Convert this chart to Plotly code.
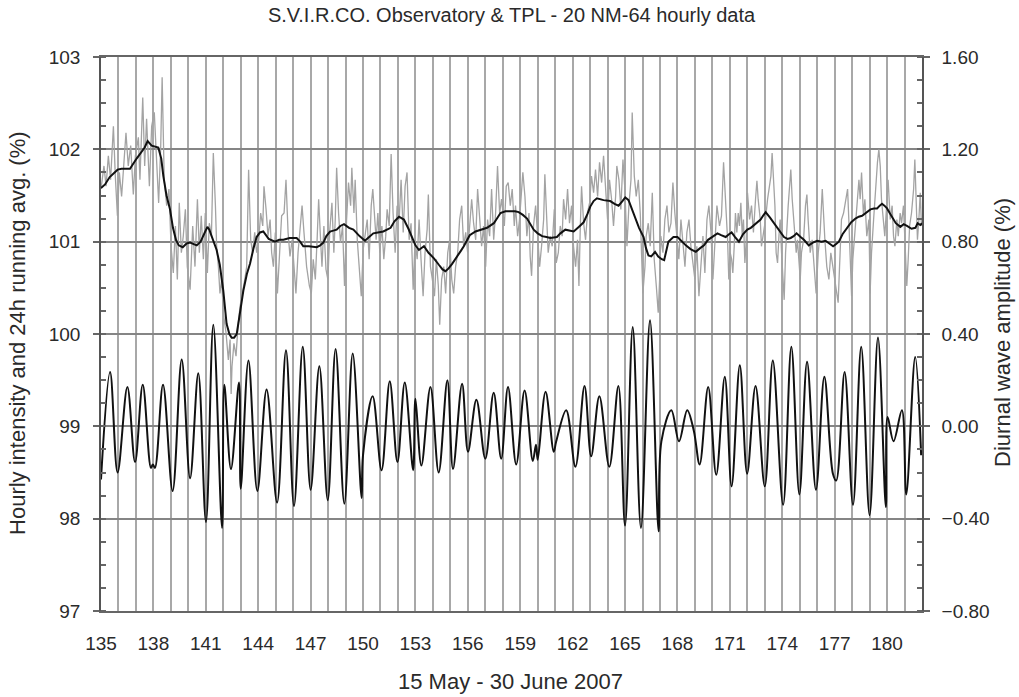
import plotly.graph_objects as go

# ---------------- data ----------------
# hourly intensity (%), sampled envelope points: day of year, value
hourly_day = [
    135.00, 135.17, 135.29, 135.42, 135.55, 135.71, 135.82, 135.94, 136.05, 136.18,
    136.43, 136.56, 136.70, 136.85, 136.97, 137.14, 137.23, 137.39, 137.50, 137.61,
    137.77, 137.90, 138.05, 138.19, 138.30, 138.42, 138.50, 138.62, 138.76, 138.89,
    139.01, 139.14, 139.26, 139.37, 139.48, 139.60, 139.71, 139.83, 139.94, 140.10,
    140.25, 140.38, 140.52, 140.63, 140.74, 140.86, 140.97, 141.09, 141.20, 141.32,
    141.43, 141.55, 141.62, 141.72, 141.81, 141.91, 142.00, 142.16, 142.29, 142.39,
    142.45, 142.50, 142.61, 142.73, 142.84, 142.96, 143.11, 143.23, 143.34, 143.45,
    143.57, 143.68, 143.80, 143.91, 144.03, 144.14, 144.26, 144.33, 144.45, 144.56,
    144.68, 144.77, 144.87, 144.98, 145.10, 145.21, 145.34, 145.48, 145.59, 145.71,
    145.82, 145.94, 146.05, 146.16, 146.28, 146.39, 146.51, 146.62, 146.77, 146.93,
    147.04, 147.15, 147.27, 147.38, 147.46, 147.57, 147.65, 147.76, 147.88, 147.99,
    148.10, 148.22, 148.33, 148.41, 148.49, 148.60, 148.71, 148.83, 148.94, 149.06,
    149.17, 149.29, 149.36, 149.48, 149.55, 149.67, 149.78, 149.90, 150.01, 150.12,
    150.24, 150.35, 150.47, 150.56, 150.66, 150.75, 150.85, 150.96, 151.08, 151.19,
    151.30, 151.38, 151.50, 151.61, 151.72, 151.84, 151.95, 152.07, 152.18, 152.30,
    152.41, 152.52, 152.64, 152.75, 152.87, 152.98, 153.10, 153.21, 153.32, 153.44,
    153.55, 153.67, 153.74, 153.86, 153.97, 154.09, 154.20, 154.31, 154.39, 154.50,
    154.62, 154.73, 154.85, 154.96, 155.08, 155.19, 155.30, 155.42, 155.53, 155.65,
    155.76, 155.88, 155.99, 156.10, 156.22, 156.33, 156.45, 156.56, 156.68, 156.79,
    156.90, 157.02, 157.13, 157.25, 157.36, 157.48, 157.59, 157.70, 157.82, 157.93,
    158.09, 158.20, 158.31, 158.43, 158.54, 158.66, 158.73, 158.85, 158.96, 159.08,
    159.15, 159.27, 159.38, 159.50, 159.57, 159.65, 159.76, 159.88, 159.99, 160.11,
    160.22, 160.34, 160.41, 160.53, 160.60, 160.72, 160.83, 160.95, 161.06, 161.18,
    161.29, 161.40, 161.48, 161.60, 161.71, 161.82, 161.94, 162.05, 162.17, 162.28,
    162.36, 162.44, 162.51, 162.63, 162.74, 162.85, 162.97, 163.08, 163.20, 163.31,
    163.43, 163.54, 163.66, 163.77, 163.89, 164.00, 164.11, 164.23, 164.34, 164.46,
    164.53, 164.65, 164.76, 164.88, 164.99, 165.11, 165.22, 165.34, 165.41, 165.53,
    165.64, 165.76, 165.87, 165.95, 166.02, 166.14, 166.21, 166.33, 166.44, 166.56,
    166.67, 166.79, 166.90, 166.98, 167.05, 167.17, 167.28, 167.40, 167.51, 167.63,
    167.74, 167.85, 167.97, 168.08, 168.20, 168.31, 168.43, 168.54, 168.66, 168.77,
    168.89, 169.00, 169.11, 169.23, 169.34, 169.46, 169.57, 169.69, 169.80, 169.92,
    170.03, 170.15, 170.26, 170.41, 170.52, 170.64, 170.71, 170.79, 170.87, 170.94,
    171.02, 171.10, 171.17, 171.25, 171.32, 171.40, 171.48, 171.55, 171.63, 171.71,
    171.78, 171.86, 171.94, 172.01, 172.13, 172.24, 172.35, 172.47, 172.55, 172.62,
    172.74, 172.81, 172.93, 173.04, 173.16, 173.27, 173.35, 173.42, 173.50, 173.58,
    173.65, 173.73, 173.81, 173.88, 173.96, 174.03, 174.11, 174.19, 174.26, 174.34,
    174.42, 174.49, 174.57, 174.65, 174.72, 174.80, 174.87, 174.95, 175.03, 175.10,
    175.22, 175.33, 175.41, 175.48, 175.60, 175.71, 175.83, 175.94, 176.06, 176.17,
    176.29, 176.36, 176.44, 176.55, 176.67, 176.78, 176.90, 177.01, 177.13, 177.20,
    177.28, 177.39, 177.51, 177.62, 177.74, 177.81, 177.89, 177.97, 178.04, 178.16,
    178.27, 178.39, 178.46, 178.54, 178.65, 178.73, 178.84, 178.96, 179.03, 179.11,
    179.23, 179.34, 179.45, 179.53, 179.61, 179.68, 179.80, 179.87, 179.95, 180.06,
    180.18, 180.29, 180.37, 180.45, 180.56, 180.64, 180.75, 180.83, 180.94, 181.06,
    181.13, 181.21, 181.29, 181.40, 181.52, 181.59, 181.67, 181.74, 181.82, 181.90,
    181.97,
]
hourly_val = [
    101.57, 101.82, 101.60, 101.93, 101.67, 102.25, 101.71, 101.28, 101.75, 101.49,
    102.18, 101.82, 102.04, 101.51, 101.93, 102.13, 101.67, 102.56, 101.82, 102.33,
    101.60, 102.25, 102.40, 101.75, 101.42, 102.04, 102.78, 101.67, 101.39, 101.57,
    100.95, 100.66, 101.17, 100.59, 101.42, 100.88, 101.06, 101.35, 100.73, 100.48,
    101.17, 100.73, 101.46, 100.88, 101.28, 100.81, 101.31, 100.66, 101.20, 101.06,
    101.96, 101.39, 100.95, 100.73, 100.44, 100.59, 100.23, 100.01, 99.72, 99.94,
    99.35, 99.65, 99.90, 99.76, 100.08, 100.30, 100.44, 100.59, 100.73, 101.78,
    101.02, 100.88, 101.10, 100.88, 101.02, 101.31, 101.17, 101.60, 101.35, 101.06,
    101.24, 100.88, 100.73, 101.10, 100.44, 100.88, 101.28, 101.31, 101.67, 101.10,
    100.84, 101.02, 100.66, 100.44, 100.88, 101.17, 101.39, 101.10, 100.73, 100.52,
    100.44, 100.81, 100.59, 101.06, 101.46, 101.02, 100.73, 101.17, 100.70, 100.59,
    101.13, 101.42, 100.88, 101.24, 101.80, 101.31, 100.99, 101.17, 100.52, 101.24,
    101.64, 101.39, 101.80, 101.31, 101.67, 101.02, 100.73, 100.41, 100.92, 101.10,
    101.24, 100.81, 101.39, 101.57, 101.24, 101.02, 101.31, 100.88, 101.17, 100.81,
    101.06, 101.35, 101.17, 101.95, 101.31, 100.88, 101.39, 101.24, 101.67, 101.10,
    101.60, 101.75, 101.02, 101.20, 100.48, 101.02, 100.81, 101.24, 100.81, 100.41,
    100.88, 101.13, 101.51, 100.73, 100.59, 100.41, 100.81, 100.52, 100.10, 100.59,
    100.73, 100.44, 100.88, 101.02, 100.59, 100.44, 100.73, 100.88, 101.24, 101.39,
    100.95, 101.10, 100.88, 101.17, 101.46, 101.20, 101.02, 101.57, 101.24, 100.95,
    101.17, 100.73, 101.24, 101.06, 101.57, 101.02, 101.31, 101.82, 101.31, 101.46,
    101.17, 101.60, 101.64, 101.39, 101.57, 101.17, 101.39, 101.06, 101.24, 101.57,
    101.75, 101.49, 101.06, 101.31, 100.84, 100.63, 101.17, 101.39, 101.02, 100.73,
    100.95, 101.24, 101.73, 101.17, 100.88, 101.06, 100.95, 101.35, 100.77, 100.88,
    101.17, 101.06, 101.46, 101.24, 101.57, 101.20, 101.39, 100.95, 100.73, 101.02,
    100.52, 101.17, 101.60, 101.20, 101.02, 101.31, 101.42, 101.71, 101.53, 101.78,
    101.49, 101.86, 101.64, 101.93, 101.60, 101.24, 101.67, 101.46, 101.17, 101.49,
    101.82, 101.67, 101.35, 101.89, 101.57, 100.95, 101.39, 101.67, 102.40, 101.71,
    101.49, 101.67, 101.31, 100.73, 100.44, 100.73, 101.06, 101.20, 100.95, 101.53,
    100.81, 100.52, 100.23, 100.59, 101.06, 100.88, 101.24, 101.39, 101.10, 101.20,
    101.64, 101.31, 101.06, 100.81, 101.24, 101.02, 100.73, 101.10, 101.24, 100.95,
    100.73, 100.59, 100.95, 100.41, 100.73, 101.06, 100.66, 101.24, 101.39, 101.10,
    100.59, 101.02, 101.39, 101.17, 101.28, 101.86, 101.60, 101.24, 101.02, 100.59,
    100.88, 100.81, 100.66, 100.95, 101.31, 101.10, 101.31, 101.17, 101.42, 101.06,
    101.24, 100.77, 101.02, 101.53, 101.24, 101.39, 101.10, 101.46, 101.66, 101.46,
    101.24, 100.95, 101.10, 101.24, 101.46, 101.60, 101.71, 101.96, 101.67, 101.39,
    100.88, 100.77, 101.06, 101.24, 100.88, 100.63, 100.37, 100.88, 101.17, 101.39,
    101.60, 101.78, 101.46, 101.24, 101.10, 100.88, 101.02, 100.81, 100.59, 100.88,
    101.02, 101.39, 101.51, 101.24, 100.88, 101.02, 100.73, 100.44, 100.88, 101.10,
    101.57, 101.24, 101.02, 100.73, 100.59, 100.88, 100.73, 100.59, 100.41, 100.34,
    100.73, 101.24, 101.31, 101.46, 101.57, 101.24, 100.73, 100.41, 100.81, 101.10,
    101.31, 101.67, 101.46, 101.75, 101.28, 101.46, 101.06, 101.24, 100.44, 100.88,
    101.24, 101.60, 101.86, 102.00, 101.82, 101.46, 101.17, 101.06, 101.31, 101.67,
    101.24, 101.39, 101.06, 100.95, 101.24, 101.06, 101.31, 101.20, 101.39, 100.88,
    100.52, 100.81, 101.17, 101.31, 101.57, 101.89, 101.46, 101.02, 101.24, 101.53,
    101.17,
]

# 24h running average (%)
avg_day = [
    135.00, 135.23, 135.50, 135.71, 135.95, 136.18, 136.66, 137.04, 137.23, 137.50,
    137.67, 137.90, 138.28, 138.45, 138.57, 138.75, 138.95, 139.12, 139.29, 139.45,
    139.68, 139.90, 140.10, 140.30, 140.48, 140.70, 140.86, 141.09, 141.20, 141.34,
    141.62, 141.80, 142.00, 142.19, 142.35, 142.48, 142.62, 142.77, 142.95, 143.15,
    143.35, 143.53, 143.72, 143.91, 144.10, 144.29, 144.60, 144.96, 145.20, 145.44,
    145.80, 146.20, 146.40, 146.58, 146.90, 147.35, 147.55, 147.73, 147.90, 148.11,
    148.30, 148.49, 148.70, 148.91, 149.20, 149.45, 149.80, 150.11, 150.35, 150.59,
    150.85, 151.16, 151.58, 151.80, 152.06, 152.34, 152.60, 152.82, 153.00, 153.20,
    153.49, 153.75, 154.06, 154.34, 154.55, 154.72, 154.90, 155.10, 155.39, 155.60,
    155.77, 156.11, 156.44, 156.72, 157.10, 157.49, 157.70, 157.87, 158.15, 158.44,
    158.70, 158.91, 159.15, 159.39, 159.60, 159.77, 160.00, 160.25, 160.50, 160.72,
    161.10, 161.30, 161.58, 161.80, 162.06, 162.35, 162.63, 162.85, 163.01, 163.20,
    163.39, 163.77, 164.15, 164.40, 164.63, 164.85, 165.01, 165.20, 165.40, 165.58,
    165.80, 166.06, 166.20, 166.34, 166.50, 166.72, 166.90, 167.10, 167.24, 167.48,
    167.77, 168.00, 168.20, 168.48, 168.75, 169.05, 169.30, 169.52, 169.75, 170.00,
    170.29, 170.50, 170.76, 170.95, 171.10, 171.30, 171.52, 171.75, 172.00, 172.20,
    172.38, 172.60, 172.76, 172.90, 173.05, 173.30, 173.52, 173.80, 174.10, 174.30,
    174.48, 174.65, 174.82, 175.05, 175.24, 175.52, 175.75, 176.00, 176.25, 176.48,
    176.70, 176.91, 177.05, 177.24, 177.45, 177.71, 177.95, 178.19, 178.38, 178.57,
    178.80, 179.05, 179.25, 179.43, 179.58, 179.71, 179.85, 180.00, 180.15, 180.29,
    180.50, 180.76, 180.95, 181.14, 181.40, 181.62, 181.75, 181.90, 182.00,
]
avg_val = [
    101.58, 101.62, 101.70, 101.74, 101.78, 101.79, 101.79, 101.90, 101.95, 102.02,
    102.09, 102.04, 102.02, 101.90, 101.71, 101.50, 101.35, 101.15, 101.02, 100.96,
    100.94, 100.98, 100.99, 100.97, 100.96, 101.00, 101.07, 101.16, 101.13, 101.05,
    100.91, 100.75, 100.47, 100.11, 100.00, 99.96, 99.96, 100.00, 100.25, 100.47,
    100.65, 100.76, 100.92, 101.05, 101.10, 101.11, 101.03, 101.00, 101.02, 101.02,
    101.04, 101.04, 101.00, 100.95, 100.95, 100.94, 100.96, 100.99, 101.06, 101.11,
    101.12, 101.13, 101.17, 101.19, 101.15, 101.13, 101.06, 101.01, 101.05, 101.09,
    101.10, 101.11, 101.15, 101.22, 101.27, 101.24, 101.14, 101.05, 100.96, 100.91,
    100.95, 100.88, 100.82, 100.75, 100.70, 100.68, 100.71, 100.76, 100.85, 100.90,
    100.95, 101.07, 101.11, 101.13, 101.15, 101.20, 101.26, 101.31, 101.33, 101.33,
    101.33, 101.32, 101.29, 101.25, 101.18, 101.13, 101.09, 101.06, 101.05, 101.04,
    101.05, 101.09, 101.13, 101.12, 101.11, 101.16, 101.21, 101.30, 101.38, 101.44,
    101.47, 101.45, 101.44, 101.41, 101.39, 101.44, 101.48, 101.45, 101.35, 101.25,
    101.15, 101.05, 100.93, 100.85, 100.84, 100.89, 100.84, 100.81, 100.80, 101.00,
    101.05, 101.05, 101.01, 100.96, 100.92, 100.89, 100.93, 100.96, 101.02, 101.05,
    101.09, 101.07, 101.05, 101.08, 101.10, 101.05, 101.00, 101.08, 101.13, 101.15,
    101.18, 101.22, 101.24, 101.28, 101.32, 101.26, 101.20, 101.12, 101.05, 101.03,
    101.04, 101.06, 101.09, 101.05, 101.02, 100.96, 100.99, 101.01, 101.00, 101.01,
    100.98, 100.95, 100.97, 101.00, 101.08, 101.15, 101.21, 101.25, 101.27, 101.28,
    101.31, 101.35, 101.36, 101.36, 101.39, 101.41, 101.39, 101.36, 101.31, 101.27,
    101.20, 101.16, 101.19, 101.17, 101.14, 101.15, 101.20, 101.18, 101.20,
]

# diurnal wave amplitude (%), turning points
wave_day = [
    135.00, 135.52, 135.95, 136.51, 136.95, 137.39, 137.86, 137.97, 138.09, 138.55,
    139.10, 139.62, 140.10, 140.57, 141.01, 141.43, 141.93, 142.06, 142.44, 142.90,
    143.00, 143.44, 143.95, 144.48, 145.08, 145.59, 146.05, 146.55, 147.00, 147.50,
    147.98, 148.43, 148.93, 149.41, 149.92, 150.00, 150.55, 151.06, 151.53, 151.97,
    152.39, 152.87, 153.00, 153.34, 153.86, 154.33, 154.83, 155.15, 155.67, 156.01,
    156.49, 157.00, 157.48, 157.91, 158.30, 158.77, 159.25, 159.72, 159.90, 160.00,
    160.45, 160.92, 161.06, 161.63, 162.16, 162.68, 163.06, 163.53, 164.10, 164.62,
    165.00, 165.44, 165.91, 166.43, 166.92, 167.08, 167.65, 168.09, 168.56, 168.94,
    169.27, 169.76, 170.22, 170.71, 171.10, 171.57, 171.99, 172.47, 173.00, 173.46,
    174.05, 174.52, 174.98, 175.42, 175.93, 176.41, 176.90, 177.09, 177.57, 178.05,
    178.52, 179.00, 179.48, 179.93, 180.03, 180.37, 180.85, 181.10, 181.61, 181.95,
]
wave_val = [
    -0.23, 0.235, -0.20, 0.17, -0.155, 0.18, -0.18, -0.165, -0.18, 0.18,
    -0.28, 0.29, -0.225, 0.23, -0.415, 0.44, -0.44, 0.18, -0.185, 0.19,
    -0.27, 0.285, -0.28, 0.16, -0.33, 0.33, -0.345, 0.345, -0.275, 0.26,
    -0.32, 0.335, -0.335, 0.315, -0.31, -0.125, 0.13, -0.19, 0.195, -0.155,
    0.19, -0.19, 0.12, -0.17, 0.17, -0.20, 0.20, -0.185, 0.185, -0.11,
    0.115, -0.14, 0.145, -0.14, 0.17, -0.165, 0.155, -0.15, -0.08, -0.145,
    0.15, -0.11, -0.065, 0.07, -0.175, 0.175, -0.13, 0.13, -0.175, 0.175,
    -0.43, 0.43, -0.44, 0.46, -0.455, -0.065, 0.07, -0.065, 0.07, -0.02,
    -0.165, 0.17, -0.21, 0.215, -0.26, 0.265, -0.205, 0.175, -0.26, 0.285,
    -0.34, 0.345, -0.295, 0.28, -0.275, 0.215, -0.205, -0.235, 0.235, -0.34,
    0.345, -0.385, 0.385, -0.35, 0.04, -0.065, 0.07, -0.295, 0.30, -0.125,
]

x_ticks = [135, 138, 141, 144, 147, 150, 153, 156, 159, 162, 165, 168, 171, 174, 177, 180]
title_text = "S.V.I.R.CO. Observatory &amp; TPL - 20 NM-64 hourly data"
left_title = "Hourly intensity and 24h running avg. (%)"
right_title = "Diurnal wave amplitude (%)"
x_title = "15 May - 30 June 2007"

# ---------------- figure ----------------
FONT = "Liberation Sans, Arial, sans-serif"
TXT = "#2a2a2a"

fig = go.Figure()
fig.add_trace(go.Scatter(x=hourly_day, y=hourly_val, mode="lines",
                         line=dict(color="#a3a3a3", width=1.3), yaxis="y",
                         showlegend=False))
fig.add_trace(go.Scatter(x=avg_day, y=avg_val, mode="lines",
                         line=dict(color="#111111", width=2), yaxis="y",
                         showlegend=False))
fig.add_trace(go.Scatter(x=wave_day, y=wave_val, mode="lines",
                         line=dict(color="#111111", width=2, shape="spline", smoothing=1.0),
                         yaxis="y2", showlegend=False))

fig.update_layout(
    width=1019, height=697,
    margin=dict(l=101, r=97, t=57, b=86),
    paper_bgcolor="white", plot_bgcolor="white",
    font=dict(family=FONT, color=TXT, size=19),
    title=dict(text=title_text, x=0.502, xanchor="center", y=0.979, yanchor="middle",
               font=dict(size=20, color=TXT, family=FONT)),
    xaxis=dict(
        range=[135, 182], tickmode="array", tickvals=x_ticks,
        ticktext=[str(v) for v in x_ticks],
        showgrid=True, gridcolor="#a8a8a8", gridwidth=1.5,
        minor=dict(dtick=1, tick0=135, showgrid=True, gridcolor="#a8a8a8", gridwidth=1.5),
        ticks="", ticklabelstandoff=14,
        showline=True, linecolor="#666666", linewidth=1.5, mirror=True,
        zeroline=False, tickfont=dict(size=19, color=TXT),
    ),
    yaxis=dict(
        range=[97, 103], dtick=1, tick0=97,
        showgrid=True, gridcolor="#858585", gridwidth=1.5,
        ticks="outside", ticklen=6, tickcolor="#666666", tickwidth=1.5,
        minor=dict(dtick=0.25, ticks="inside", ticklen=5, tickcolor="#666666", showgrid=False),
        ticklabelstandoff=9,
        showline=True, linecolor="#555555", linewidth=1.5,
        zeroline=False, tickfont=dict(size=19, color=TXT),
    ),
    yaxis2=dict(
        range=[-0.8, 1.6], dtick=0.4, tick0=-0.8, tickformat=".2f",
        overlaying="y", side="right", showgrid=False,
        ticks="outside", ticklen=6, tickcolor="#666666", tickwidth=1.5,
        minor=dict(dtick=0.1, ticks="inside", ticklen=5, tickcolor="#666666", showgrid=False),
        ticklabelstandoff=8,
        showline=True, linecolor="#555555", linewidth=1.5,
        zeroline=False, tickfont=dict(size=19, color=TXT),
    ),
    annotations=[
        dict(text=left_title, xref="paper", yref="paper", x=-0.101, y=0.502,
             xanchor="center", yanchor="middle", textangle=-90, showarrow=False,
             font=dict(size=22, color=TXT, family=FONT)),
        dict(text=right_title, xref="paper", yref="paper", x=1.0987, y=0.502,
             xanchor="center", yanchor="middle", textangle=-90, showarrow=False,
             font=dict(size=22, color=TXT, family=FONT)),
        dict(text=x_title, xref="paper", yref="paper", x=0.499, y=-0.128,
             xanchor="center", yanchor="middle", showarrow=False,
             font=dict(size=22, color=TXT, family=FONT)),
    ],
)

fig.write_html("out.html")
